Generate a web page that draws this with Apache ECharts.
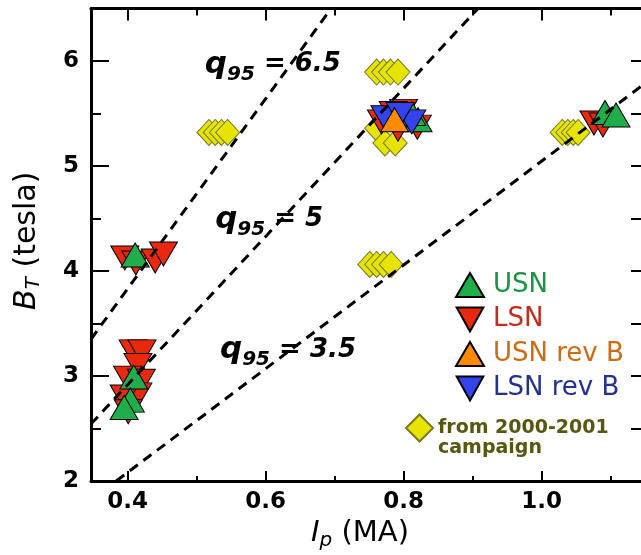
<!DOCTYPE html>
<html><head><meta charset="utf-8">
<script src="https://cdn.jsdelivr.net/npm/echarts@6/dist/echarts.min.js"></script>
<style>html,body{margin:0;padding:0;background:#fff}#c{width:641px;height:555px}</style>
</head><body><div id="c"></div>
<script>
// Axis ticks
const xTicks = [0.4, 0.6, 0.8, 1.0];
const xMinorTicks = [0.5, 0.7, 0.9, 1.1];
const yTicks = [2, 3, 4, 5, 6];
const yMinorTicks = [2.5, 3.5, 4.5, 5.5];

// Series data [Ip (MA), B_T (tesla)]
const campaign = [
  [0.518, 5.32], [0.527, 5.32], [0.536, 5.32], [0.545, 5.32],
  [0.761, 5.895], [0.771, 5.895], [0.781, 5.895], [0.792, 5.895],
  [0.751, 4.062], [0.761, 4.062], [0.771, 4.062], [0.782, 4.062],
  [1.030, 5.32], [1.038, 5.32], [1.046, 5.32], [1.053, 5.32],
  [0.761, 5.36], [0.773, 5.22], [0.788, 5.22]
];
const lsn = [
  [0.396, 4.124], [0.412, 4.076], [0.440, 4.095], [0.452, 4.162],
  [0.408, 3.23], [0.421, 3.23], [0.415, 3.10], [0.400, 2.98], [0.420, 2.95],
  [0.415, 2.82], [0.395, 2.80], [0.401, 2.66],
  [0.768, 5.42], [0.792, 5.35], [0.820, 5.37], [0.800, 5.52], [0.785, 5.50],
  [1.076, 5.41], [1.089, 5.39]
];
const usn = [
  [0.411, 4.152],
  [0.409, 2.99], [0.404, 2.77], [0.395, 2.70],
  [0.821, 5.44], [0.812, 5.50],
  [1.092, 5.51], [1.108, 5.486]
];
const lsnRevB = [[0.812, 5.42], [0.773, 5.46], [0.795, 5.49]];
const usnRevB = [[0.787, 5.44]];

// q95 dashed lines (endpoints)
const q65Line = [[0.347, 3.35], [0.695, 6.5]];
const q5Line = [[0.347, 2.543], [0.908, 6.5]];
const q35Line = [[0.3836, 2.0], [1.15, 5.786]];
// q95 annotations [Ip, B, value]
const qLabels = [[0.512, 5.967, '6.5'], [0.527, 4.49, '5'], [0.534, 3.25, '3.5']];

const FONT = 'DejaVu Sans';
const xMin = 0.347, xMax = 1.15, yMin = 2, yMax = 6.5;

function xAx(pos, ticks, len, extra) {
  return Object.assign({
    type: 'value', position: pos, min: xMin, max: xMax,
    axisLine: {show: true, onZero: false, lineStyle: {color: '#000', width: 3}},
    axisTick: {show: true, inside: true, length: len, customValues: ticks, lineStyle: {color: '#000', width: 2}},
    axisLabel: {show: false},
    splitLine: {show: false}
  }, extra || {});
}
function yAx(pos, ticks, len, extra) {
  return Object.assign({
    type: 'value', position: pos, min: yMin, max: yMax,
    axisLine: {show: true, onZero: false, lineStyle: {color: '#000', width: 3}},
    axisTick: {show: true, inside: true, length: len, customValues: ticks, lineStyle: {color: '#000', width: 2}},
    axisLabel: {show: false},
    splitLine: {show: false}
  }, extra || {});
}

const tickLabel = {fontFamily: FONT, fontSize: 23, fontWeight: 'bold', color: '#000'};
const dash = {color: '#000', width: 3, type: [10, 7]};

const option = {
  animation: false,
  textStyle: {fontFamily: FONT, color: '#000'},
  grid: {left: 91, top: 8.5, width: 554, height: 472.5, containLabel: false, outerBoundsMode: 'none'},
  xAxis: [
    xAx('bottom', xTicks, 10, {
      axisLabel: Object.assign({show: true, customValues: xTicks, margin: 10,
        formatter: v => v.toFixed(1)}, tickLabel),
      name: '{i|I}{s|p}{n| (MA)}', nameLocation: 'middle', nameGap: 27,
      nameTextStyle: {color: '#000', fontFamily: FONT, padding: [0, 16, 0, 0],
        rich: {i: {fontSize: 29, fontStyle: 'italic', fontFamily: FONT, color: '#000'},
               s: {fontSize: 20, fontStyle: 'italic', fontFamily: FONT, color: '#000', padding: [14, 0, 0, 0]},
               n: {fontSize: 29, fontFamily: FONT, color: '#000'}}}
    }),
    xAx('bottom', xMinorTicks, 5, {axisLine: {show: false}}),
    xAx('top', xTicks, 12),
    xAx('top', xMinorTicks, 7, {axisLine: {show: false}})
  ],
  yAxis: [
    yAx('left', yTicks, 18, {
      axisLabel: Object.assign({show: true, customValues: yTicks, margin: 12}, tickLabel),
      name: '{i|B}{s|T}{n| (tesla)}', nameLocation: 'middle', nameGap: 47,
      nameTextStyle: {color: '#000', fontFamily: FONT, padding: [0, 0, 0, 8],
        rich: {i: {fontSize: 30, fontStyle: 'italic', fontFamily: FONT, color: '#000'},
               s: {fontSize: 20, fontStyle: 'italic', fontFamily: FONT, color: '#000', padding: [14, 0, 0, 0]},
               n: {fontSize: 30, fontFamily: FONT, color: '#000'}}}
    }),
    yAx('left', yMinorTicks, 10, {axisLine: {show: false}}),
    yAx('right', yTicks, 14),
    yAx('right', yMinorTicks, 14, {axisLine: {show: false}})
  ],
  legend: [
    {
      orient: 'vertical', left: 455, top: 272, padding: 0, itemWidth: 28, itemHeight: 24, itemGap: 8.5,
      textStyle: {fontFamily: FONT, fontSize: 26, lineHeight: 24, padding: [0, 0, 0, 4]},
      data: [
        {name: 'USN', textStyle: {color: '#1a9440'}},
        {name: 'LSN', textStyle: {color: '#c52a1c'}},
        {name: 'USN rev B', textStyle: {color: '#cc6d16'}},
        {name: 'LSN rev B', textStyle: {color: '#25318f'}}
      ],
      selectedMode: false
    },
    {
      orient: 'vertical', left: 405, top: 398, padding: 0, itemWidth: 27, itemHeight: 27,
      formatter: n => '\n' + n.replace(' campaign', '\ncampaign'),
      textStyle: {fontFamily: FONT, fontSize: 19, fontWeight: 'bold', color: '#57570f', lineHeight: 20},
      data: ['from 2000-2001 campaign'],
      selectedMode: false
    }
  ],
  series: [
    {type: 'line', data: q65Line, showSymbol: false, silent: true, lineStyle: dash},
    {type: 'line', data: q5Line, showSymbol: false, silent: true, lineStyle: dash},
    {type: 'line', data: q35Line, showSymbol: false, silent: true, lineStyle: dash},
    {name: 'from 2000-2001 campaign', type: 'scatter', data: campaign, symbol: 'diamond', symbolSize: [24, 26],
      itemStyle: {color: '#e6e400', borderColor: '#7a7a22', borderWidth: 1, opacity: 1}},
    {name: 'LSN', type: 'scatter', data: lsn, symbol: 'path://M0,0L10,0L5,9Z', symbolSize: [28, 24],
      itemStyle: {color: '#e8290e', borderColor: '#000', borderWidth: 1, opacity: 1}},
    {name: 'USN', type: 'scatter', data: usn, symbol: 'triangle', symbolSize: [28, 24],
      itemStyle: {color: '#1fae4b', borderColor: '#000', borderWidth: 1, opacity: 1}},
    {name: 'LSN rev B', type: 'scatter', data: lsnRevB, symbol: 'path://M0,0L10,0L5,9Z', symbolSize: [28, 24],
      itemStyle: {color: '#3344ee', borderColor: '#000', borderWidth: 1, opacity: 1}},
    {name: 'USN rev B', type: 'scatter', data: usnRevB, symbol: 'triangle', symbolSize: [28, 24],
      itemStyle: {color: '#ff8a00', borderColor: '#000', borderWidth: 1, opacity: 1}},
    {type: 'scatter', data: qLabels, symbolSize: 0, silent: true, itemStyle: {opacity: 1},
      label: {show: true, position: 'right', distance: 0, color: '#000', textBorderWidth: 0,
        formatter: p => '{q|q}{s|95}{e| = ' + p.value[2] + '}',
        rich: {
          q: {fontFamily: FONT, fontSize: 31, fontWeight: 'bold', fontStyle: 'italic', color: '#000'},
          s: {fontFamily: FONT, fontSize: 20, fontWeight: 'bold', fontStyle: 'italic', color: '#000', padding: [21, 0, 0, 0]},
          e: {fontFamily: FONT, fontSize: 26, fontWeight: 'bold', fontStyle: 'italic', color: '#000'}
        }}}
  ]
};
const chart = echarts.init(document.getElementById('c'), null, {renderer: 'canvas'});
chart.setOption(option);
</script>
</body></html>
